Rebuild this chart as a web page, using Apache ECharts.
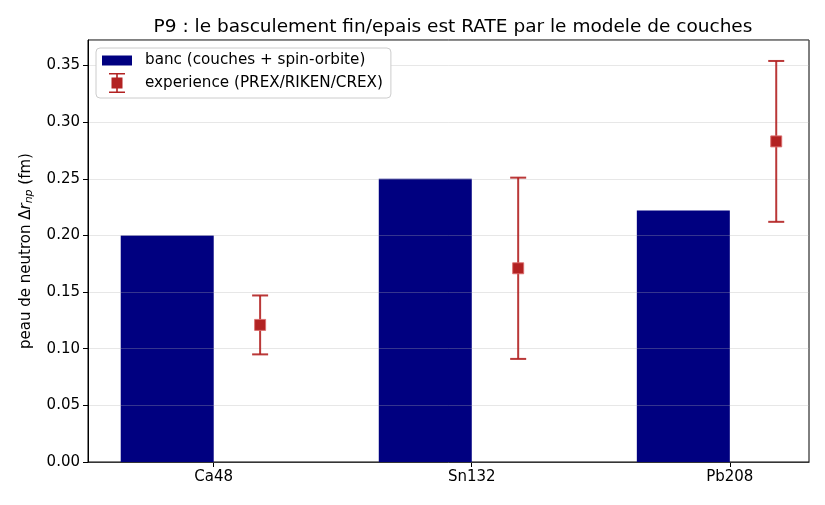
<!DOCTYPE html>
<html>
<head>
    <meta charset="utf-8">
    <title>P9 peau de neutron</title>
    <script src="https://cdn.jsdelivr.net/npm/echarts@6.0.0/dist/echarts.min.js"></script>
</head>
<body style="margin:0;background:#fff;">
    <div id="main" style="width:825px;height:505px;"></div>
    <script type="text/javascript">
        // donnees
        var noyaux = ['Ca48', 'Sn132', 'Pb208'];
        var banc = [0.200, 0.250, 0.222];
        var experience = [0.121, 0.171, 0.283];
        var erreur = [0.026, 0.080, 0.071];
        var yTicks = [0, 0.05, 0.10, 0.15, 0.20, 0.25, 0.30, 0.35];

        var decal = 0.18;   // demi-ecart barre / point
        var rouge = '#b22222';

        var barData = [], ptData = [], errData = [];
        for (var i = 0; i < noyaux.length; i++) {
            barData.push([i - decal, banc[i]]);
            ptData.push([i + decal, experience[i]]);
            errData.push([i + decal, experience[i] - erreur[i], experience[i] + erreur[i]]);
        }

        var myChart = echarts.init(document.getElementById('main'));

        var option = {
            animation: false,
            textStyle: { fontFamily: 'DejaVu Sans' },
            title: {
                left: 448,
                textAlign: 'center',
                top: 13,
                text: 'P9 : le basculement fin/epais est RATE par le modele de couches',
                textStyle: { fontSize: 18.5, fontWeight: 'normal', color: '#000', fontFamily: 'DejaVu Sans' }
            },
            grid: {
                left: 88, right: 16, top: 40, bottom: 43,
                show: true, borderColor: '#000', borderWidth: 1
            },
            legend: {
                orient: 'vertical',
                left: 96, top: 48,
                padding: [5, 8, 5, 6],
                itemWidth: 30, itemHeight: 20, itemGap: 5,
                backgroundColor: '#fff',
                borderColor: '#cccccc', borderWidth: 1, borderRadius: 4,
                textStyle: { fontSize: 15.2, color: '#000', padding: [0, 0, 0, 8], fontFamily: 'DejaVu Sans' },
                data: [
                    { name: 'banc (couches + spin-orbite)', icon: 'path://M0,0H30V10H0Z' },
                    { name: 'experience (PREX/RIKEN/CREX)',
                      icon: 'path://M0,0H16V1.6H0Z M7.2,0H8.8V20H7.2Z M0,18.4H16V20H0Z M2.5,4.5H13.5V15.5H2.5Z',
                      itemStyle: { color: rouge } }
                ]
            },
            xAxis: {
                type: 'value',
                min: -0.487, max: 2.307,
                axisLine: { onZero: false, lineStyle: { color: '#000', width: 1 } },
                axisTick: { show: true, length: 5, customValues: [0, 1, 2], lineStyle: { color: '#000' } },
                axisLabel: {
                    customValues: [0, 1, 2],
                    fontSize: 15, color: '#000', margin: 8,
                    formatter: function (v) { return noyaux[Math.round(v)]; }
                },
                splitLine: { show: false }
            },
            yAxis: {
                type: 'value',
                min: 0, max: 0.3725, interval: 0.05,
                z: 3,
                name: 'peau de neutron Δ{i|r}{s|np} (fm)',
                nameLocation: 'middle',
                nameGap: 53,
                nameTextStyle: {
                    fontSize: 15, color: '#000',
                    rich: {
                        i: { fontStyle: 'italic', fontSize: 15, color: '#000' },
                        s: { fontStyle: 'italic', fontSize: 11, color: '#000', verticalAlign: 'bottom', padding: [6, 0, 0, 0] }
                    }
                },
                axisLine: { show: true, onZero: false, lineStyle: { color: '#000', width: 1 } },
                axisTick: { show: true, length: 5, lineStyle: { color: '#000' } },
                axisLabel: {
                    fontSize: 15, color: '#000', margin: 8, showMaxLabel: false,
                    formatter: function (v) { return v.toFixed(2); }
                },
                splitLine: { show: true, lineStyle: { color: 'rgba(176,176,176,0.3)', width: 1 } }
            },
            series: [
                {
                    name: 'banc (couches + spin-orbite)',
                    type: 'bar',
                    barWidth: 93,
                    itemStyle: { color: '#000080' },
                    data: barData,
                    z: 2
                },
                {
                    name: 'experience (PREX/RIKEN/CREX)',
                    type: 'custom',
                    z: 4,
                    renderItem: function (params, api) {
                        var x = api.value(0);
                        var bas = api.coord([x, api.value(1)]);
                        var haut = api.coord([x, api.value(2)]);
                        var c = 8;
                        var st = { stroke: 'rgba(178,34,34,0.9)', lineWidth: 2 };
                        return {
                            type: 'group',
                            children: [
                                { type: 'line', shape: { x1: haut[0], y1: haut[1], x2: bas[0], y2: bas[1] }, style: st },
                                { type: 'line', shape: { x1: haut[0] - c, y1: haut[1], x2: haut[0] + c, y2: haut[1] }, style: st },
                                { type: 'line', shape: { x1: bas[0] - c, y1: bas[1], x2: bas[0] + c, y2: bas[1] }, style: st }
                            ]
                        };
                    },
                    encode: { x: 0, y: [1, 2] },
                    itemStyle: { color: rouge },
                    data: errData
                },
                {
                    name: 'experience (PREX/RIKEN/CREX)',
                    type: 'scatter',
                    z: 5,
                    symbol: 'rect',
                    symbolSize: 11,
                    itemStyle: { color: rouge, borderColor: 'rgba(220,110,110,0.9)', borderWidth: 1, opacity: 1 },
                    data: ptData
                }
            ]
        };

        myChart.setOption(option);
    </script>
</body>
</html>
